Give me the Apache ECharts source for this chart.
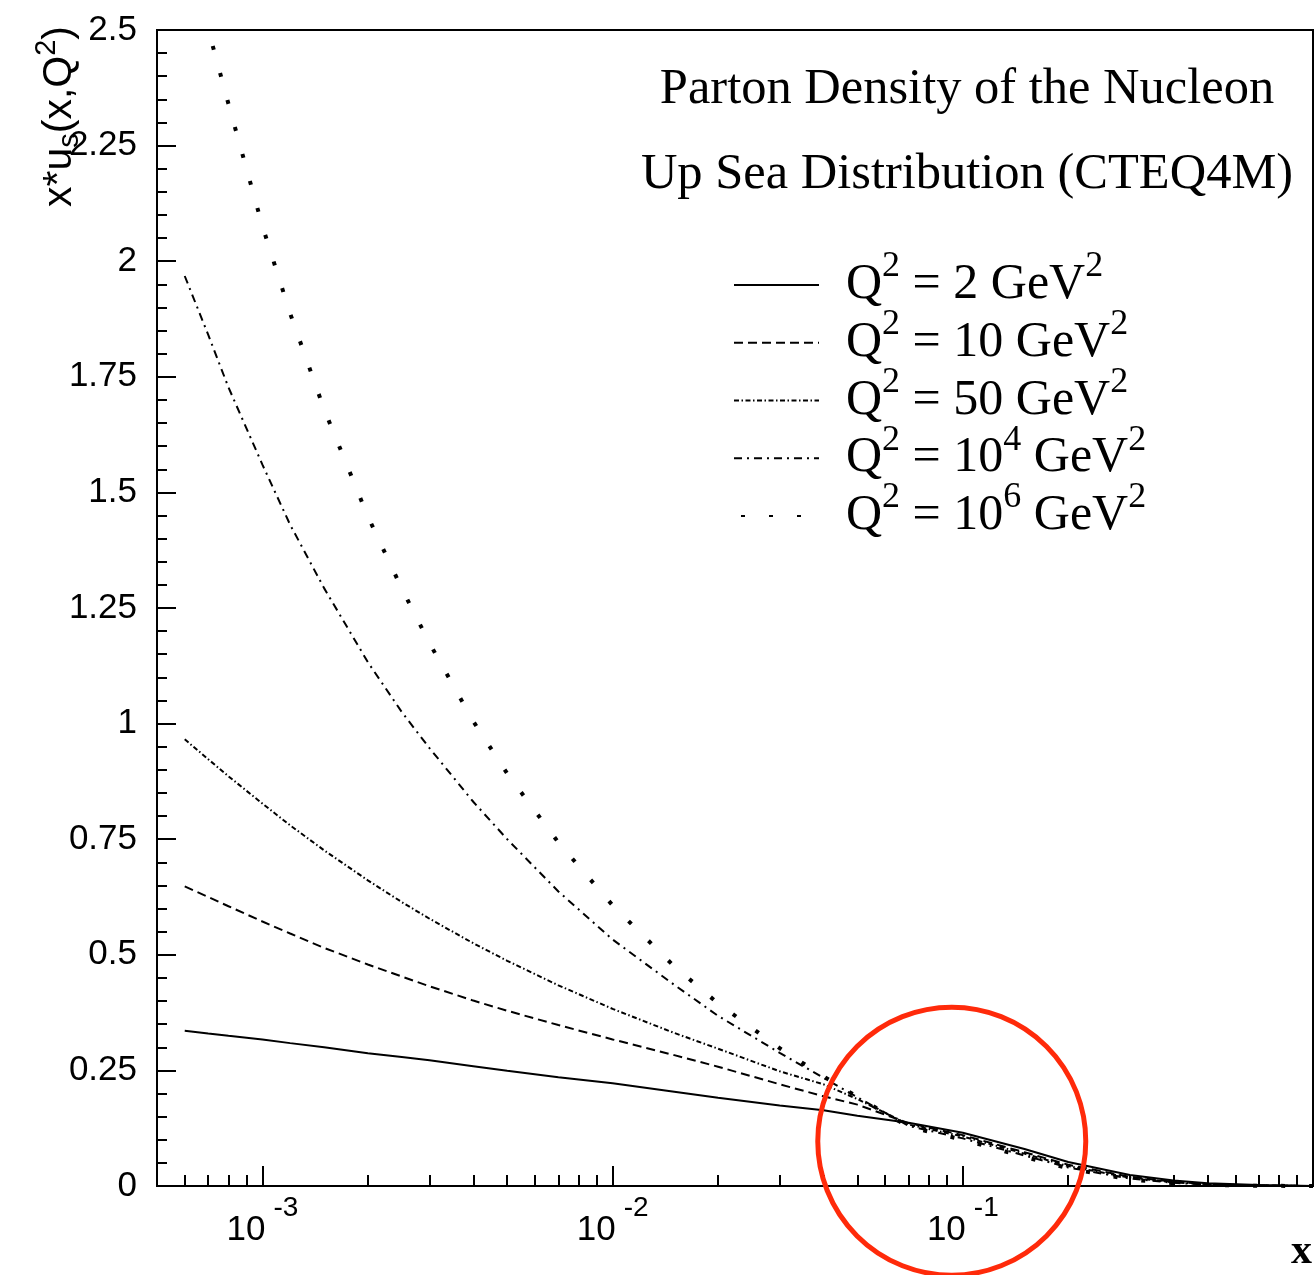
<!DOCTYPE html>
<html>
<head>
<meta charset="utf-8">
<title>Up Sea Distribution (CTEQ4M)</title>
<script src="https://cdn.jsdelivr.net/npm/echarts@6/dist/echarts.min.js"></script>
<style>
  html, body { margin: 0; padding: 0; background: #ffffff; }
  #chart { width: 1314px; height: 1275px; }
</style>
</head>
<body>
<div id="chart"></div>
<script>
// Momentum fraction x at which x*u_s(x,Q^2) is tabulated
const xValues = [6e-4, 7e-4, 8e-4, 1e-3, 1.2e-3, 1.5e-3, 2e-3, 2.5e-3, 3e-3, 4e-3, 5e-3, 7e-3,
                 1e-2, 1.5e-2, 2e-2, 3e-2, 4e-2, 5e-2, 7e-2, 0.1, 0.15, 0.2, 0.3, 0.4, 0.5, 0.7, 1.0];

// x*u_s(x,Q^2) for each scale Q^2
const seaQ2_2   = [0.336, 0.330, 0.325, 0.317, 0.309, 0.300, 0.287, 0.279, 0.272, 0.259, 0.249, 0.235,
                   0.222, 0.204, 0.191, 0.174, 0.164, 0.152, 0.137, 0.115, 0.080, 0.052, 0.024, 0.012, 0.006, 0.002, 0];
const seaQ2_10  = [0.648, 0.625, 0.605, 0.572, 0.546, 0.515, 0.479, 0.453, 0.432, 0.401, 0.379, 0.348,
                   0.317, 0.283, 0.258, 0.220, 0.194, 0.176, 0.136, 0.110, 0.073, 0.046, 0.020, 0.009, 0.004, 0.001, 0];
const seaQ2_50  = [0.966, 0.923, 0.886, 0.827, 0.780, 0.726, 0.661, 0.614, 0.578, 0.525, 0.487, 0.434,
                   0.383, 0.331, 0.297, 0.248, 0.220, 0.188, 0.133, 0.107, 0.070, 0.043, 0.018, 0.008, 0.004, 0.001, 0];
const seaQ2_1e4 = [1.968, 1.841, 1.727, 1.560, 1.430, 1.293, 1.133, 1.025, 0.947, 0.831, 0.750, 0.637,
                   0.533, 0.435, 0.368, 0.288, 0.234, 0.192, 0.130, 0.103, 0.066, 0.040, 0.016, 0.007, 0.003, 0.001, 0];
const seaQ2_1e6 = [2.700, 2.502, 2.340, 2.076, 1.887, 1.680, 1.448, 1.292, 1.174, 1.005, 0.892, 0.743,
                   0.607, 0.475, 0.395, 0.298, 0.237, 0.193, 0.128, 0.100, 0.063, 0.038, 0.014, 0.006, 0.002, 0.0005, 0];

// Q^2 values shown in the legend ("base^exponent")
const q2Labels = ['2', '10', '50', '10^4', '10^6'];

// Axis ticks
const yTickStep = 0.25;
const xMajorTicks = [1e-3, 1e-2, 1e-1];
const xMinorTicks = [6e-4, 7e-4, 8e-4, 9e-4,
                     2e-3, 3e-3, 4e-3, 5e-3, 6e-3, 7e-3, 8e-3, 9e-3,
                     2e-2, 3e-2, 4e-2, 5e-2, 6e-2, 7e-2, 8e-2, 9e-2,
                     0.2, 0.3, 0.4, 0.5, 0.6, 0.7, 0.8, 0.9];

const curves = [seaQ2_2, seaQ2_10, seaQ2_50, seaQ2_1e4, seaQ2_1e6];
const dashes = [
  { type: 'solid', width: 2 },
  { type: [9, 5], width: 2 },
  { type: [5, 2.5, 1.5, 2.5], width: 2 },
  { type: [8, 5, 2, 5], width: 2 },
  { type: [4, 24], width: 4 }
];

const serif = '"Liberation Serif", "Times New Roman", serif';
const sans = '"Liberation Sans", Arial, Helvetica, sans-serif';

function seriesName(label) {
  return 'Q2 = ' + label.replace('^', 'e') + ' GeV2';
}

function legendText(label) {
  const parts = label.split('^');
  let s = '{g| }{b|Q}{s|2}{b| = ' + parts[0] + '}';
  if (parts[1]) s += '{s|' + parts[1] + '}';
  s += '{b| GeV}{s|2}';
  return s;
}

const nameToLabel = {};
q2Labels.forEach(l => { nameToLabel[seriesName(l)] = l; });

const series = curves.map((vals, i) => ({
  name: seriesName(q2Labels[i]),
  type: 'line',
  xAxisIndex: 0,
  yAxisIndex: 0,
  symbol: 'none',
  showSymbol: false,
  clip: true,
  silent: true,
  itemStyle: { color: '#000' },
  data: xValues.map((x, k) => [x, vals[k]]),
  lineStyle: { color: '#000', width: dashes[i].width, type: dashes[i].type, cap: 'butt' }
}));

const chart = echarts.init(document.getElementById('chart'), null, { renderer: 'canvas' });

const option = {
  animation: false,
  backgroundColor: '#ffffff',
  title: {
    text: 'Parton Density of the Nucleon\nUp Sea Distribution (CTEQ4M)',
    left: 967,
    top: 47,
    textAlign: 'center',
    padding: 0,
    textStyle: {
      fontFamily: serif,
      fontSize: 50.5,
      fontWeight: 'normal',
      color: '#000',
      lineHeight: 85
    }
  },
  legend: {
    orient: 'vertical',
    left: 733,
    top: 249,
    padding: 0,
    itemWidth: 85,
    itemHeight: 14,
    itemGap: -14.25,
    selectedMode: false,
    itemStyle: { color: 'rgba(0,0,0,0)', borderColor: 'rgba(0,0,0,0)', borderWidth: 0, opacity: 0 },
    data: q2Labels.map((l, i) => {
      const item = { name: seriesName(l) };
      if (i === 4) item.lineStyle = { dashOffset: 21 };
      return item;
    }),
    formatter: name => legendText(nameToLabel[name]),
    textStyle: {
      color: '#000',
      fontFamily: serif,
      fontSize: 50,
      rich: {
        g: { width: 22, fontSize: 10 },
        b: { fontFamily: serif, fontSize: 50, lineHeight: 50, color: '#000' },
        s: { fontFamily: serif, fontSize: 36, lineHeight: 30, color: '#000', padding: [0, 0, 36, 0] }
      }
    }
  },
  grid: {
    left: 157,
    right: 1,
    top: 30,
    bottom: 89,
    show: true,
    borderColor: '#000',
    borderWidth: 2,
    backgroundColor: 'transparent'
  },
  xAxis: [
    {
      type: 'log',
      logBase: 10,
      min: 5e-4,
      max: 1,
      position: 'bottom',
      axisLine: { show: true, onZero: false, lineStyle: { color: '#000', width: 2 } },
      axisTick: { show: true, inside: true, length: 20, customValues: xMajorTicks,
                  lineStyle: { color: '#000', width: 2 } },
      axisLabel: {
        show: true,
        customValues: xMajorTicks,
        margin: 27,
        formatter: v => '{b|10}{s|' + Math.round(Math.log10(v)) + '}',
        rich: {
          b: { fontFamily: sans, fontSize: 35, lineHeight: 34, color: '#000' },
          s: { fontFamily: sans, fontSize: 28, lineHeight: 28, color: '#000', padding: [0, 0, 44, 8] }
        }
      },
      splitLine: { show: false },
      minorTick: { show: false }
    },
    {
      type: 'log',
      logBase: 10,
      min: 5e-4,
      max: 1,
      position: 'bottom',
      axisLine: { show: false, onZero: false },
      axisTick: { show: true, inside: true, length: 11, customValues: xMinorTicks,
                  lineStyle: { color: '#000', width: 2 } },
      axisLabel: { show: false },
      splitLine: { show: false }
    }
  ],
  yAxis: {
    type: 'value',
    min: 0,
    max: 2.5,
    interval: yTickStep,
    axisLine: { show: true, onZero: false, lineStyle: { color: '#000', width: 2 } },
    axisTick: { show: true, inside: true, length: 19, lineStyle: { color: '#000', width: 2 } },
    minorTick: { show: true, splitNumber: 5, length: 10, lineStyle: { color: '#000', width: 2 } },
    axisLabel: { color: '#000', fontFamily: sans, fontSize: 35, margin: 20 },
    splitLine: { show: false }
  },
  series: series
};

chart.setOption(option);

// Annotation ring around the region where the curves converge, plus axis titles
const ringCenter = chart.convertToPixel({ gridIndex: 0 }, [0.093, 0.097]);
chart.setOption({
  graphic: [
    {
      type: 'text',
      x: 60,
      y: 26,
      rotation: Math.PI / 2,
      z: 100,
      style: {
        text: '{t|x*u}{d|s}{t|(x,Q}{p|2}{t|)}',
        align: 'right',
        verticalAlign: 'middle',
        fill: '#000',
        rich: {
          t: { fontFamily: sans, fontSize: 41, lineHeight: 44, fill: '#000' },
          d: { fontFamily: sans, fontSize: 29, lineHeight: 29, fill: '#000', padding: [20, 0, 0, 0] },
          p: { fontFamily: sans, fontSize: 29, lineHeight: 29, fill: '#000', padding: [0, 0, 26, 0] }
        }
      }
    },
    {
      type: 'text',
      x: 1291,
      y: 1252,
      z: 100,
      style: {
        text: 'x',
        align: 'left',
        verticalAlign: 'middle',
        font: 'bold 42px ' + serif,
        fill: '#000'
      }
    },
    {
      type: 'circle',
      z: 200,
      shape: { cx: ringCenter[0], cy: ringCenter[1], r: 134 },
      style: { fill: 'none', stroke: '#ff2a0a', lineWidth: 5 }
    }
  ]
});
</script>
</body>
</html>
